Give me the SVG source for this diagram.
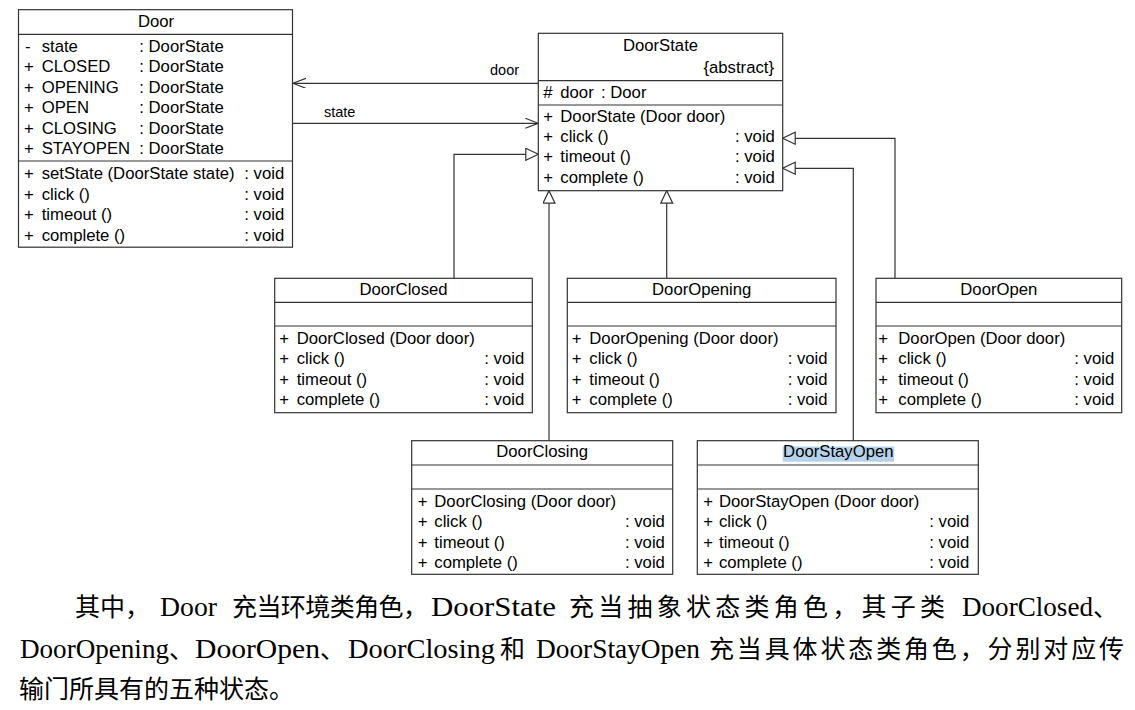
<svg xmlns="http://www.w3.org/2000/svg" width="1135" height="710" viewBox="0 0 1135 710">
<style>
.box{fill:#fff;stroke:#333;stroke-width:1.2}
.sep{stroke:#333;stroke-width:1.2}
.t{font-family:"Liberation Sans",Arial,sans-serif;font-size:16.7px;fill:#000}
.c{text-anchor:middle}
.lbl{font-family:"Liberation Sans",Arial,sans-serif;font-size:14.5px;fill:#000}
.ln{fill:none;stroke:#333;stroke-width:1.2}
.p{font-family:"Liberation Serif","Noto Sans CJK SC",serif;font-size:25px;fill:#000}
.lat{font-size:27.5px}
</style>
<defs>
<marker id="open" markerWidth="14" markerHeight="12" refX="13" refY="5" orient="auto" markerUnits="userSpaceOnUse">
<path d="M0,0 L13,5 L0,10" fill="none" stroke="#333" stroke-width="1.2"/>
</marker>
<marker id="tri" markerWidth="15" markerHeight="14" refX="13" refY="6.5" orient="auto" markerUnits="userSpaceOnUse">
<path d="M0.5,0.5 L13,6.5 L0.5,12.5 Z" fill="#fff" stroke="#333" stroke-width="1.2"/>
</marker>
</defs>

<g id="connectors">
<path class="ln" d="M538.3,83.3 H293" marker-end="url(#open)"/>
<path class="ln" d="M292.5,123.3 H538.3" marker-end="url(#open)"/>
<path class="ln" d="M454,278.3 V154.3 H538.3" marker-end="url(#tri)"/>
<path class="ln" d="M549,440.7 V190.7" marker-end="url(#tri)"/>
<path class="ln" d="M666.7,278.3 V190.7" marker-end="url(#tri)"/>
<path class="ln" d="M895,278.3 V138.3 H782.7" marker-end="url(#tri)"/>
<path class="ln" d="M853.3,440.7 V168.3 H782.7" marker-end="url(#tri)"/>
<text class="lbl" x="490" y="75">door</text>
<text class="lbl" x="324" y="117">state</text>
</g>

<g id="Door">
<rect class="box" x="18.5" y="9.7" width="274" height="237.5"/>
<line class="sep" x1="18.5" y1="34.3" x2="292.5" y2="34.3"/>
<line class="sep" x1="18.5" y1="161" x2="292.5" y2="161"/>
<text class="t c" x="156" y="27">Door</text>
<text class="t" x="25" y="52">-</text><text class="t" x="41.7" y="52">state</text><text class="t" x="139.3" y="52">: DoorState</text>
<text class="t" x="24" y="72">+</text><text class="t" x="41.7" y="72">CLOSED</text><text class="t" x="139.3" y="72">: DoorState</text>
<text class="t" x="24" y="92.5">+</text><text class="t" x="41.7" y="92.5">OPENING</text><text class="t" x="139.3" y="92.5">: DoorState</text>
<text class="t" x="24" y="113">+</text><text class="t" x="41.7" y="113">OPEN</text><text class="t" x="139.3" y="113">: DoorState</text>
<text class="t" x="24" y="133.5">+</text><text class="t" x="41.7" y="133.5">CLOSING</text><text class="t" x="139.3" y="133.5">: DoorState</text>
<text class="t" x="24" y="154">+</text><text class="t" x="41.7" y="154">STAYOPEN</text><text class="t" x="139.3" y="154">: DoorState</text>
<text class="t" x="24" y="179">+</text><text class="t" x="41.7" y="179">setState (DoorState state)</text><text class="t" x="244.3" y="179">: void</text>
<text class="t" x="24" y="199.7">+</text><text class="t" x="41.7" y="199.7">click ()</text><text class="t" x="244.3" y="199.7">: void</text>
<text class="t" x="24" y="220.3">+</text><text class="t" x="41.7" y="220.3">timeout ()</text><text class="t" x="244.3" y="220.3">: void</text>
<text class="t" x="24" y="241">+</text><text class="t" x="41.7" y="241">complete ()</text><text class="t" x="244.3" y="241">: void</text>
</g>

<g id="DoorState">
<rect class="box" x="538.3" y="33.3" width="244.4" height="157.4"/>
<line class="sep" x1="538.3" y1="80.7" x2="782.7" y2="80.7"/>
<line class="sep" x1="538.3" y1="105" x2="782.7" y2="105"/>
<text class="t c" x="660.5" y="50.7">DoorState</text>
<text class="t" x="774" y="73.3" text-anchor="end">{abstract}</text>
<text class="t" x="543.3" y="97.7">#</text><text class="t" x="560.3" y="97.7">door</text><text class="t" x="601" y="97.7">: Door</text>
<text class="t" x="543.3" y="121.7">+</text><text class="t" x="560.3" y="121.7">DoorState (Door door)</text>
<text class="t" x="543.3" y="141.7">+</text><text class="t" x="560.3" y="141.7">click ()</text><text class="t" x="735" y="141.7">: void</text>
<text class="t" x="543.3" y="162.3">+</text><text class="t" x="560.3" y="162.3">timeout ()</text><text class="t" x="735" y="162.3">: void</text>
<text class="t" x="543.3" y="183.3">+</text><text class="t" x="560.3" y="183.3">complete ()</text><text class="t" x="735" y="183.3">: void</text>
</g>

<g id="DoorClosed">
<rect class="box" x="274.7" y="278.3" width="257.6" height="134.4"/>
<line class="sep" x1="274.7" y1="302.3" x2="532.3" y2="302.3"/>
<line class="sep" x1="274.7" y1="326" x2="532.3" y2="326"/>
<text class="t c" x="403.5" y="295">DoorClosed</text>
<text class="t" x="279.3" y="344">+</text><text class="t" x="296.7" y="344">DoorClosed (Door door)</text>
<text class="t" x="279.3" y="364">+</text><text class="t" x="296.7" y="364">click ()</text><text class="t" x="484.3" y="364">: void</text>
<text class="t" x="279.3" y="384.5">+</text><text class="t" x="296.7" y="384.5">timeout ()</text><text class="t" x="484.3" y="384.5">: void</text>
<text class="t" x="279.3" y="405">+</text><text class="t" x="296.7" y="405">complete ()</text><text class="t" x="484.3" y="405">: void</text>
</g>

<g id="DoorOpening">
<rect class="box" x="567.3" y="278.3" width="268.7" height="134.4"/>
<line class="sep" x1="567.3" y1="302.3" x2="836" y2="302.3"/>
<line class="sep" x1="567.3" y1="326" x2="836" y2="326"/>
<text class="t c" x="701.7" y="295">DoorOpening</text>
<text class="t" x="571.7" y="344">+</text><text class="t" x="589.3" y="344">DoorOpening (Door door)</text>
<text class="t" x="571.7" y="364">+</text><text class="t" x="589.3" y="364">click ()</text><text class="t" x="787.7" y="364">: void</text>
<text class="t" x="571.7" y="384.5">+</text><text class="t" x="589.3" y="384.5">timeout ()</text><text class="t" x="787.7" y="384.5">: void</text>
<text class="t" x="571.7" y="405">+</text><text class="t" x="589.3" y="405">complete ()</text><text class="t" x="787.7" y="405">: void</text>
</g>

<g id="DoorOpen">
<rect class="box" x="876" y="278.3" width="245.7" height="134.4"/>
<line class="sep" x1="876" y1="302.3" x2="1121.7" y2="302.3"/>
<line class="sep" x1="876" y1="326" x2="1121.7" y2="326"/>
<text class="t c" x="998.8" y="295">DoorOpen</text>
<text class="t" x="878.3" y="344">+</text><text class="t" x="898.3" y="344">DoorOpen (Door door)</text>
<text class="t" x="878.3" y="364">+</text><text class="t" x="898.3" y="364">click ()</text><text class="t" x="1074.3" y="364">: void</text>
<text class="t" x="878.3" y="384.5">+</text><text class="t" x="898.3" y="384.5">timeout ()</text><text class="t" x="1074.3" y="384.5">: void</text>
<text class="t" x="878.3" y="405">+</text><text class="t" x="898.3" y="405">complete ()</text><text class="t" x="1074.3" y="405">: void</text>
</g>

<g id="DoorClosing">
<rect class="box" x="411.7" y="440.7" width="261" height="133.6"/>
<line class="sep" x1="411.7" y1="465" x2="672.7" y2="465"/>
<line class="sep" x1="411.7" y1="489" x2="672.7" y2="489"/>
<text class="t c" x="542.2" y="457">DoorClosing</text>
<text class="t" x="417.7" y="506.7">+</text><text class="t" x="434.3" y="506.7">DoorClosing (Door door)</text>
<text class="t" x="417.7" y="526.7">+</text><text class="t" x="434.3" y="526.7">click ()</text><text class="t" x="625" y="526.7">: void</text>
<text class="t" x="417.7" y="547.5">+</text><text class="t" x="434.3" y="547.5">timeout ()</text><text class="t" x="625" y="547.5">: void</text>
<text class="t" x="417.7" y="568.3">+</text><text class="t" x="434.3" y="568.3">complete ()</text><text class="t" x="625" y="568.3">: void</text>
</g>

<g id="DoorStayOpen">
<rect class="box" x="697.3" y="440.7" width="281" height="133.6"/>
<line class="sep" x1="697.3" y1="465" x2="978.3" y2="465"/>
<line class="sep" x1="697.3" y1="489" x2="978.3" y2="489"/>
<rect x="782.7" y="446.5" width="111.3" height="15.2" fill="#b4d2ea"/>
<text class="t c" x="838.3" y="457">DoorStayOpen</text>
<text class="t" x="703.3" y="506.7">+</text><text class="t" x="719" y="506.7">DoorStayOpen (Door door)</text>
<text class="t" x="703.3" y="526.7">+</text><text class="t" x="719" y="526.7">click ()</text><text class="t" x="929.3" y="526.7">: void</text>
<text class="t" x="703.3" y="547.5">+</text><text class="t" x="719" y="547.5">timeout ()</text><text class="t" x="929.3" y="547.5">: void</text>
<text class="t" x="703.3" y="568.3">+</text><text class="t" x="719" y="568.3">complete ()</text><text class="t" x="929.3" y="568.3">: void</text>
</g>

<g id="paragraph">
<text class="p" y="616"><tspan x="75">其中，</tspan><tspan class="lat" x="160" textLength="57" lengthAdjust="spacingAndGlyphs">Door</tspan><tspan x="232" textLength="196" lengthAdjust="spacing">充当环境类角色，</tspan><tspan class="lat" x="431" textLength="125" lengthAdjust="spacingAndGlyphs">DoorState</tspan><tspan x="569" textLength="376" lengthAdjust="spacing">充当抽象状态类角色，其子类</tspan><tspan class="lat" x="962" textLength="131" lengthAdjust="spacingAndGlyphs">DoorClosed</tspan><tspan x="1093">、</tspan></text>
<text class="p" y="658"><tspan class="lat" x="20" textLength="149" lengthAdjust="spacingAndGlyphs">DoorOpening</tspan><tspan x="169">、</tspan><tspan class="lat" x="195" textLength="125" lengthAdjust="spacingAndGlyphs">DoorOpen</tspan><tspan x="320">、</tspan><tspan class="lat" x="348" textLength="147" lengthAdjust="spacingAndGlyphs">DoorClosing</tspan><tspan x="500">和</tspan><tspan class="lat" x="536" textLength="164" lengthAdjust="spacingAndGlyphs">DoorStayOpen</tspan><tspan x="709" textLength="415" lengthAdjust="spacing">充当具体状态类角色，分别对应传</tspan></text>
<text class="p" y="698"><tspan x="19">输门所具有的五种状态。</tspan></text>
</g>
</svg>
